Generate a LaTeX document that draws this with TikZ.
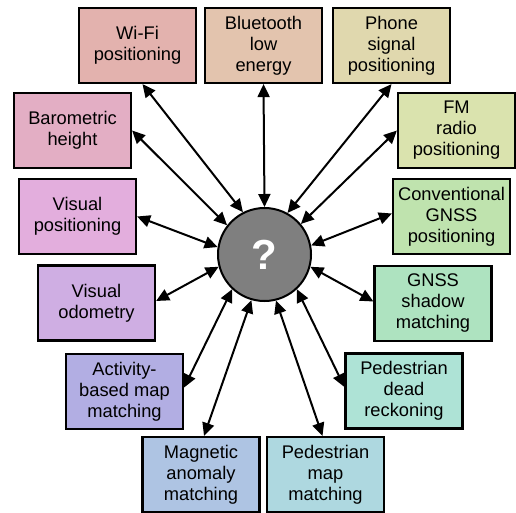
\documentclass[tikz,border=0pt]{standalone}
\usepackage{fontspec}
\setmainfont{Liberation Sans}
\usetikzlibrary{arrows.meta}
\definecolor{wificol}{HTML}{E3B2AE}
\definecolor{blecol}{HTML}{E3C4AE}
\definecolor{phonecol}{HTML}{E0D8AE}
\definecolor{fmcol}{HTML}{DAE3AE}
\definecolor{gnsscol}{HTML}{BFE3AE}
\definecolor{shadowcol}{HTML}{AEE3C0}
\definecolor{pdrcol}{HTML}{AEE3D6}
\definecolor{pmmcol}{HTML}{AED8E0}
\definecolor{magcol}{HTML}{AEC4E3}
\definecolor{actcol}{HTML}{B2AEE3}
\definecolor{odocol}{HTML}{CFAEE3}
\definecolor{vispcol}{HTML}{E3AEDD}
\definecolor{barocol}{HTML}{E3AEC4}
\begin{document}
\begin{tikzpicture}[x=1pt,y=-1pt,<->,>={Triangle[length=13pt,width=12pt]},line width=2pt,
    main node/.style={draw,line width=2.2pt,minimum width=117pt,minimum height=75pt,inner sep=0pt,
        align=center,font=\fontsize{18.3}{21}\selectfont},
    centre node/.style={circle,draw,fill={rgb,255:red,127;green,127;blue,127},minimum size=93pt,inner sep=0pt,
        text=white,font=\fontsize{42}{42}\selectfont\bfseries}]
        \path[use as bounding box] (0,0) rectangle (516,513);
        \node[centre node] (c) at (264.5,254.5) {?};
        \node[main node, fill=wificol] (1) at (137.5,45.5) {Wi-Fi\\positioning};
        \node[main node, fill=blecol] (2) at (263.5,45.5) {Bluetooth\\low\\energy};
        \node[main node, fill=phonecol] (3) at (391.5,45.5) {Phone\\signal\\positioning};
        \node[main node, fill=fmcol] (4) at (456.5,130.5) {FM\\radio\\positioning};
        \node[main node, fill=gnsscol] (5) at (451.5,216.5) {Conventional\\GNSS\\positioning};
        \node[main node, fill=shadowcol] (6) at (433,303.5) {GNSS\\shadow\\matching};
        \node[main node, fill=pdrcol] (7) at (404,391) {Pedestrian\\dead\\reckoning};
        \node[main node, fill=pmmcol] (8) at (325.5,474.5) {Pedestrian\\map\\matching};
        \node[main node, fill=magcol] (9) at (201,474.5) {Magnetic\\anomaly\\matching};
        \node[main node, fill=actcol] (10) at (124.5,391.5) {Activity-\\based map\\matching};
        \node[main node, fill=odocol] (11) at (96.5,303) {Visual\\odometry};
        \node[main node, fill=vispcol] (12) at (77.5,216.5) {Visual\\positioning};
        \node[main node, fill=barocol] (13) at (72.5,130.5) {Barometric\\height};
        \path
        (c.117) edge ([xshift=5pt]1.south)
        (c.north) edge (2.south)
        (c.61) edge (3.south)
        (c.40) edge (4.west)
        (c.11) edge ([yshift=3pt]5.west)
        (c.-15) edge ([yshift=2pt]6.west)
        (c.-47) edge ([yshift=4pt]7.west)
        (c.-76) edge ([xshift=-3pt]8.north)
        (c.254) edge ([xshift=3pt]9.north)
        (c.227) edge ([yshift=4pt]10.east)
        (c.195) edge ([yshift=2pt]11.east)
        (c.171) edge (12.east)
        (c.142) edge (13.east);
    \end{tikzpicture}
\end{document}
